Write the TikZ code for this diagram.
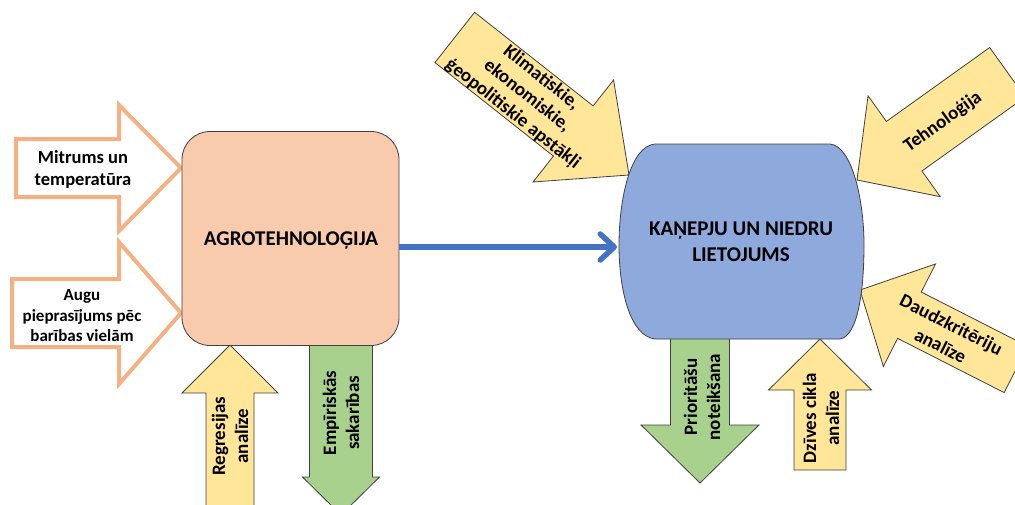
\documentclass[tikz,border=0pt]{standalone}
\usepackage{fontspec}
\setmainfont{Carlito}
\usetikzlibrary{arrows.meta}
\definecolor{peach}{HTML}{F8CBAD}
\definecolor{ylw}{HTML}{FFE699}
\definecolor{grn}{HTML}{A9D18E}
\definecolor{blu}{HTML}{8EA9DB}
\definecolor{orng}{HTML}{F4B183}
\definecolor{bline}{HTML}{4472C4}
\definecolor{edge}{HTML}{404040}
% #1 style, #2 tip, #3 angle, #4 length, #5 shaft half width, #6 head half width, #7 head length
\newcommand\blkarrow[7]{%
  \begin{scope}[shift={#2}, rotate=#3]
    \path[#1] (-#4pt,-#5pt) -- (-#7pt,-#5pt) -- (-#7pt,-#6pt) -- (0pt,0pt)
      -- (-#7pt,#6pt) -- (-#7pt,#5pt) -- (-#4pt,#5pt) -- cycle;
  \end{scope}}
\tikzset{
  yarrow/.style={fill=ylw, draw=edge, line width=0.8pt},
  garrow/.style={fill=grn, draw=edge, line width=0.8pt},
  oarrow/.style={fill=white, draw=orng, line width=4pt},
  lbl/.style={font=\bfseries\fontsize{19}{23}\selectfont, align=center, inner sep=0pt},
  biglbl/.style={font=\bfseries\fontsize{21}{26}\selectfont, align=center, inner sep=0pt},
  link/.style={draw=bline, line width=5.5pt, -{Straight Barb[length=14pt,width=26pt,round]}}
}
\begin{document}
\begin{tikzpicture}[x=1pt, y=-1pt]
\useasboundingbox (0,0) rectangle (1015,504);
\begin{scope}
\clip (0,0) rectangle (1015,504);
% input arrows (left)
\blkarrow{oarrow}{(181,168)}{0}{165}{29}{63}{62}
\blkarrow{oarrow}{(181,313)}{0}{169}{34}{71}{62}
% bottom arrows left
\blkarrow{yarrow}{(230,345)}{90}{162}{24}{48}{48}
\blkarrow{garrow}{(341,515)}{-90}{172}{31.5}{38.5}{38}
% bottom arrows right
\blkarrow{garrow}{(700,483)}{-90}{146}{29.5}{59}{58}
\blkarrow{yarrow}{(820,339)}{90}{131}{26}{51.5}{51}
% diagonal arrows
\blkarrow{yarrow}{(629,175)}{-38.3}{222}{32}{65}{71}
\blkarrow{yarrow}{(857,180)}{-144.4}{185}{30.5}{62}{58}
\blkarrow{yarrow}{(860,290)}{153}{175}{26}{57.5}{55.5}
\end{scope}
% left box
\node[draw=edge, line width=0.8pt, fill=peach, rounded corners=28pt,
  minimum width=217pt, minimum height=214pt] (agro) at (290.5,238.5) {};
\node[biglbl] (agrot) at (291,240) {AGROTEHNOLOĢIJA};
% right shape
\path[draw=edge, line width=0.8pt, fill=blu]
  (655,144) -- (830,144)
  .. controls (852,146) and (864,200) .. (864,245)
  .. controls (864,290) and (858,336) .. (840,339)
  -- (655,339)
  .. controls (630,336) and (619,290) .. (619,245)
  .. controls (619,200) and (630,146) .. (655,144) -- cycle;
\node[biglbl] (kan) at (741,242) {KAŅEPJU UN NIEDRU\\LIETOJUMS};
\coordinate (kanW) at (617,247);
% connector
\draw[link] (agro.east |- kanW) -- (kanW);
% labels
\node[lbl, font=\bfseries\fontsize{18.5}{22}\selectfont] (mit) at (83,169) {Mitrums un\\temperatūra};
\node[lbl, font=\bfseries\fontsize{17}{20.5}\selectfont] (augu) at (82,316) {Augu\\pieprasījums pēc\\barības vielām};
\node[lbl, rotate=90] (regr) at (230,436) {Regresijas\\analīze};
\node[lbl, rotate=90] (empi) at (341,413) {Empīriskās\\sakarības};
\node[lbl, rotate=90] (prio) at (702,397) {Prioritāšu\\noteikšana};
\node[lbl, rotate=90] (dziv) at (821,418) {Dzīves cikla\\analīze};
\node[lbl, rotate=-38.3] (klim) at (527,96) {Klimatiskie,\\ekonomiskie,\\ģeopolitiskie apstākļi};
\node[lbl, rotate=35.6] (tehn) at (943,122) {Tehnoloģija};
\node[lbl, rotate=-27, font=\bfseries\fontsize{19}{24}\selectfont] (daud) at (946,335) {Daudzkritēriju\\analīze};
\end{tikzpicture}
\end{document}
